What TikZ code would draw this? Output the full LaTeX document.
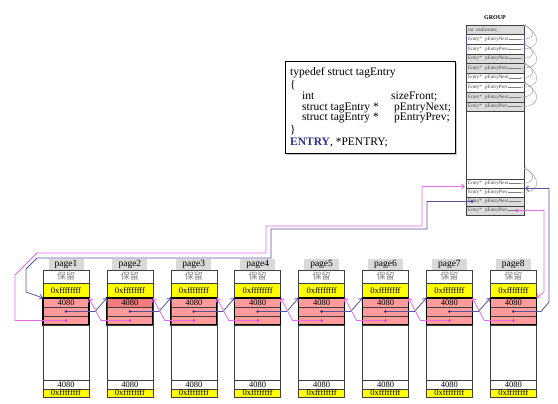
\documentclass[tikz,border=0pt]{standalone}
\usepackage{fontspec}
\setmainfont{Liberation Serif}
\newfontfamily\cjk{Noto Sans CJK SC}
\usepackage{tikz}
\usetikzlibrary{arrows.meta,calc}
\definecolor{lnkblue}  {HTML}{55559F}
\definecolor{lnkpink}  {HTML}{E36AE3}
\definecolor{dotblue}  {HTML}{2B2B8C}
\definecolor{dotpink}  {HTML}{E030E0}
\definecolor{rowpink}  {HTML}{FF9B9B}
\definecolor{rowpinkdk}{HTML}{F47C7C}
\definecolor{rowyel}   {HTML}{FFFF00}
\definecolor{labgray}  {HTML}{D9D9D9}
\definecolor{grpgray}  {HTML}{DCDCDC}
\definecolor{cellline} {HTML}{404040}
\definecolor{entryblue}{HTML}{2E3192}
\newcommand{\fsz}[1]{\fontsize{#1}{#1}\selectfont}

\begin{document}
\begin{tikzpicture}[x=1pt,y=-1pt,
  cell/.style={draw=cellline, line width=0.5pt},
  pglabel/.style={fill=labgray, minimum width=35pt, minimum height=11pt, inner sep=0pt, font=\fsz{9.5}},
  celltxt/.style={inner sep=0pt, font=\fsz{8.5}},
  grptxt/.style={inner sep=0pt, anchor=west, font=\fsz{5}, text=black!75},
  codetxt/.style={inner sep=0pt, anchor=base west, font=\fsz{11.5}},
  lnknext/.style={lnkblue, line width=0.8pt, -{Straight Barb[length=3pt,width=5pt]}},
  lnkprev/.style={lnkpink, line width=0.8pt, -{Straight Barb[length=3pt,width=5pt]}},
  selfref/.style={draw=gray!80, line width=0.4pt, -{Straight Barb[length=1.5pt,width=2.5pt]}}]
  \useasboundingbox (0,0) rectangle (558,404);

  % the eight pages
  \foreach \i/\tc in {1/rowpink,2/rowpinkdk,3/rowpink,4/rowpink,5/rowpink,6/rowpink,7/rowpink,8/rowpink} {
    \pgfmathsetmacro\x{43+63.9*(\i-1)}
    \node[pglabel] (lab\i) at ({\x+23},264.5) {page\i};
    \draw[cell, fill=white]  (\x,270) rectangle ++(46,13);
    \node[celltxt, text=gray, font=\cjk\fsz{9}] (res\i) at ({\x+23},276.5) {保留};
    \draw[cell, fill=rowyel] (\x,283) rectangle ++(46,15);
    \node[celltxt] (ff\i) at ({\x+23},290.5) {0xffffffff};
    \draw[cell, fill=\tc]    (\x,298) rectangle ++(46,9);
    \node[celltxt] (sz\i) at ({\x+23},302.5) {4080};
    \draw[cell, fill=rowpink] (\x,307) rectangle ++(46,9);
    \draw[cell, fill=rowpink] (\x,316) rectangle ++(46,9);
    \draw[line width=1.1pt] (\x,298) rectangle ++(46,27);
    \draw[cell, fill=white]  (\x,325) rectangle ++(46,55);
    \draw[cell, fill=white]  (\x,380) rectangle ++(46,9);
    \node[celltxt] (szb\i) at ({\x+23},384.5) {4080};
    \draw[cell, fill=rowyel] (\x,389) rectangle ++(46,8);
    \node[celltxt] (ffb\i) at ({\x+23},393) {0xffffffff};
    \coordinate (tl\i) at (\x,298);
    \coordinate (tr\i) at ({\x+46},298);
    \coordinate (nd\i) at ({\x+23},311.5);
    \coordinate (pd\i) at ({\x+23},320.5);
  }

  % group table
  \node[font=\fsz{6}\bfseries, inner sep=0pt] (grp) at (495,18) {GROUP};
  \draw[cell, fill=grpgray] (466,25) rectangle ++(58,9.6);
  \node[grptxt] (cnt) at (468,29.8) {int\ \ cntEntries;};
  \foreach \i/\fc/\fld in {1/white/pEntryNext,2/white/pEntryPrev,3/grpgray/pEntryNext,4/grpgray/pEntryPrev,
                           5/white/pEntryNext,6/white/pEntryPrev,7/grpgray/pEntryNext,8/grpgray/pEntryPrev} {
    \pgfmathsetmacro\y{25+9.6*\i}
    \draw[cell, fill=\fc] (466,\y) rectangle ++(58,9.6);
    \node[grptxt] (gtyp\i) at (468,{\y+4.8}) {Entry*};
    \node[grptxt] (gfld\i) at (485,{\y+4.8}) {\fld};
    \draw[gray, line width=0.3pt] (gfld\i.east) -- (521,{\y+4.8});
  }
  \foreach \j/\fc/\fld in {0/white/pEntryNext,1/white/pEntryPrev,2/grpgray/pEntryNext,3/grpgray/pEntryPrev} {
    \pgfmathsetmacro\y{179+9*\j}
    \draw[cell, fill=\fc] (466,\y) rectangle ++(58,9);
    \node[grptxt] (gbtyp\j) at (468,{\y+4.5}) {Entry*};
    \node[grptxt] (gbfld\j) at (485,{\y+4.5}) {\fld};
    \draw[gray, line width=0.3pt] (gbfld\j.east) -- (521,{\y+4.5});
  }
  \draw[cellline, line width=0.8pt] (466,25) rectangle (524,215);
  \draw[lnkblue, line width=0.6pt] (466,34.6) -- (466,53.8) (524,34.6) -- (524,53.8);

  % empty lists point back to themselves
  \coordinate (gtip0) at (524,25);
  \coordinate (gtip2) at (524,44.2);
  \coordinate (gtip4) at (524,63.4);
  \coordinate (gtip6) at (524,82.6);
  \coordinate (gbtip) at (524,168);
  \draw[selfref] (521,39.4)  .. controls (536,39.4)  and (536,30)   .. (gtip0);
  \draw[selfref] (521,49)    .. controls (542,49)    and (541,34)   .. (gtip0);
  \draw[selfref] (521,58.6)  .. controls (536,58.6)  and (536,49.2) .. (gtip2);
  \draw[selfref] (521,68.2)  .. controls (542,68.2)  and (541,53.2) .. (gtip2);
  \draw[selfref] (521,77.8)  .. controls (536,77.8)  and (536,68.4) .. (gtip4);
  \draw[selfref] (521,87.4)  .. controls (542,87.4)  and (541,72.4) .. (gtip4);
  \draw[selfref] (521,97)    .. controls (536,97)    and (536,87.6) .. (gtip6);
  \draw[selfref] (521,106.6) .. controls (542,106.6) and (541,91.6) .. (gtip6);
  \draw[selfref] (521,183.5) .. controls (536,183.5) and (536,173)  .. (gbtip);
  \draw[selfref] (521,192.5) .. controls (542,192.5) and (541,177)  .. (gbtip);

  % struct definition
  \fill[gray!45] (287,63) rectangle (457,155);
  \draw[fill=white, line width=0.7pt] (285,61) rectangle (455,153);
  \node[codetxt] (c1) at (290,76) {typedef struct tagEntry};
  \node[codetxt] (c2) at (290,89) {\{};
  \node[codetxt] (c3) at (302,100) {int};
  \node[codetxt] (c3b) at (391,100) {sizeFront;};
  \node[codetxt] (c4) at (302,110.5) {struct tagEntry *};
  \node[codetxt] (c4b) at (394,110.5) {pEntryNext;};
  \node[codetxt] (c5) at (302,120.5) {struct tagEntry *};
  \node[codetxt] (c5b) at (394,120.5) {pEntryPrev;};
  \node[codetxt] (c6) at (290,134) {\}};
  \node[codetxt] (c7) at (290,146) {\textcolor{entryblue}{\textbf{ENTRY}}, *PENTRY;};

  % links between pages
  \foreach \i [evaluate=\i as \j using int(\i+1)] in {1,...,7} {
    \draw[lnknext] (nd\i) -- ++(29,0) -- (tl\j);
    \draw[lnkprev] (pd\j) -- ++(-29,0) -- (tr\i);
  }

  % links between the group and the first and last page
  \coordinate (gdn) at (472,201.5);
  \coordinate (gdp) at (517,210.5);
  \coordinate (gin) at (465,186.5);
  \coordinate (gout) at (525,188.5);
  \draw[lnknext] (gdn) -- (427,201.5) -- (427,229) -- (271,229) -- (271,258)
        -- (37,258) -- (26,269) -- (26,292) -- (tl1);
  \draw[lnkprev] (pd1) -- (15,320.5) -- (15,275) -- (37,253) -- (266,253)
        -- (266,226) -- (422,226) -- (422,186.5) -- (gin);
  \draw[lnknext] (nd8) -- (541,311.5) -- (549,302) -- (549,188.5) -- (gout);
  \draw[lnkprev] (gdp) -- (544,210.5) -- (544,292) -- (tr8);

  \foreach \i in {1,...,8} {
    \fill[dotblue] (nd\i) circle (1.4pt);
    \fill[dotpink] (pd\i) circle (1.4pt);
  }
  \fill[dotblue] (gdn) circle (1.4pt);
  \fill[dotpink] (gdp) circle (1.4pt);
\end{tikzpicture}
\end{document}
